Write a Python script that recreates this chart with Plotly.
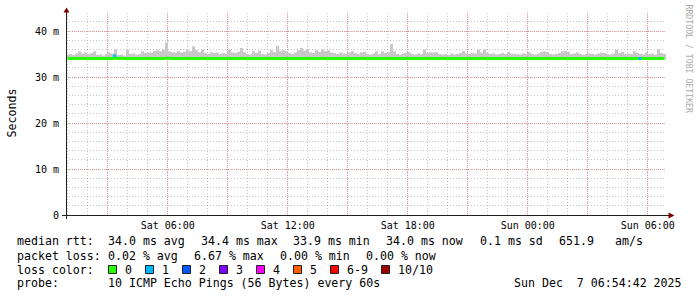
import pandas as pd
import plotly.graph_objects as go

# ---------------- data ----------------
start_time = "2025-12-06 00:54:42"
end_time = "2025-12-07 06:54:42"
bin_minutes = 9

smoke_hi = [
    34.9, 35.0, 34.8, 35.1, 35.6, 35.1, 35.3, 35.0, 35.2, 35.6,
    34.8, 34.9, 34.7, 35.0, 35.3, 35.1, 36.0, 34.8, 34.9, 34.7,
    35.8, 35.0, 35.1, 34.9, 35.0, 35.6, 35.2, 35.4, 35.3, 35.6,
    35.8, 35.6, 36.0, 37.5, 35.6, 35.4, 35.3, 35.6, 35.3, 35.5,
    35.8, 35.6, 36.7, 35.8, 35.4, 36.0, 35.2, 35.0, 35.4, 35.2,
    35.3, 35.0, 35.2, 35.0, 36.0, 35.3, 35.2, 35.5, 36.3, 35.4,
    35.0, 34.9, 35.6, 35.2, 35.7, 35.0, 34.9, 35.2, 35.8, 35.4,
    36.8, 35.6, 35.8, 35.6, 35.2, 35.0, 35.3, 35.8, 36.3, 35.7,
    36.0, 35.4, 35.2, 35.8, 35.5, 36.0, 35.6, 35.8, 35.3, 35.2,
    35.0, 35.3, 35.1, 35.0, 35.3, 35.6, 35.2, 35.0, 35.3, 35.5,
    35.0, 34.9, 35.1, 35.6, 35.0, 35.6, 35.2, 35.4, 37.2, 35.6,
    35.0, 34.9, 35.1, 35.3, 35.4, 35.0, 34.9, 35.1, 35.0, 36.0,
    35.2, 35.4, 35.3, 35.4, 35.0, 34.9, 35.0, 34.8, 35.1, 34.9,
    35.0, 35.2, 35.6, 35.1, 35.0, 35.2, 35.1, 36.0, 35.3, 36.0,
    35.2, 35.0, 35.1, 34.9, 35.0, 35.2, 35.0, 35.5, 35.1, 35.0,
    35.0, 34.9, 35.1, 35.0, 35.4, 35.0, 34.9, 35.1, 35.5, 35.6,
    35.4, 35.0, 34.9, 35.0, 35.2, 35.6, 35.7, 35.5, 35.0, 35.1,
    35.3, 35.0, 34.9, 35.0, 35.1, 35.0, 34.9, 35.1, 35.3, 35.2,
    35.0, 34.9, 35.1, 36.0, 35.2, 35.5, 35.0, 35.1, 35.0, 35.6,
    35.2, 35.0, 34.9, 35.3, 35.0, 35.1, 34.9, 36.0, 35.2, 35.0,
]

smoke_lo = [
    33.8, 33.8, 33.7, 33.8, 33.8, 33.8, 33.8, 33.7, 33.8, 33.8,
    33.8, 33.8, 33.8, 33.8, 33.7, 33.8, 33.8, 33.8, 33.8, 33.8,
    33.8, 33.7, 33.8, 33.8, 33.8, 33.8, 33.8, 33.8, 33.7, 33.8,
    33.8, 33.8, 33.8, 33.8, 33.8, 33.7, 33.8, 33.8, 33.8, 33.8,
    33.8, 33.8, 33.8, 33.7, 33.8, 33.8, 33.8, 33.8, 33.8, 33.8,
    33.8, 33.8, 33.7, 33.8, 33.8, 33.8, 33.8, 33.8, 33.8, 33.7,
    33.8, 33.8, 33.8, 33.8, 33.8, 33.8, 33.7, 33.8, 33.8, 33.8,
    33.8, 33.8, 33.8, 33.8, 33.7, 33.8, 33.8, 33.8, 33.8, 33.8,
    33.8, 33.7, 33.8, 33.8, 33.8, 33.8, 33.8, 33.8, 33.7, 33.8,
    33.8, 33.8, 33.8, 33.8, 33.8, 33.7, 33.8, 33.8, 33.8, 33.8,
    33.8, 33.8, 33.8, 33.7, 33.8, 33.8, 33.8, 33.8, 33.8, 33.8,
    33.7, 33.8, 33.8, 33.8, 33.8, 33.8, 33.8, 33.7, 33.8, 33.8,
    33.8, 33.8, 33.8, 33.8, 33.7, 33.8, 33.8, 33.8, 33.8, 33.8,
    33.8, 33.7, 33.8, 33.8, 33.8, 33.8, 33.8, 33.8, 33.7, 33.8,
    33.8, 33.8, 33.8, 33.8, 33.8, 33.7, 33.8, 33.8, 33.8, 33.8,
    33.8, 33.8, 33.7, 33.8, 33.8, 33.8, 33.8, 33.8, 33.8, 33.7,
    33.8, 33.8, 33.8, 33.8, 33.8, 33.8, 33.7, 33.8, 33.8, 33.8,
    33.8, 33.8, 33.8, 33.8, 33.7, 33.8, 33.8, 33.8, 33.8, 33.8,
    33.8, 33.7, 33.8, 33.8, 33.8, 33.8, 33.8, 33.8, 33.6, 33.8,
    33.8, 33.8, 33.8, 33.8, 33.8, 33.7, 33.8, 33.8, 33.8, 33.8,
]

median_rtt = [
    34.0, 34.0, 34.0, 33.9, 34.0, 34.0, 34.0, 34.0, 34.0, 34.0,
    34.0, 34.0, 34.0, 34.0, 34.0, 34.0, 34.1, 34.0, 34.0, 34.0,
    34.0, 34.0, 33.9, 34.0, 34.0, 34.0, 34.0, 34.0, 34.0, 34.0,
    34.0, 34.0, 34.0, 34.1, 34.0, 34.0, 34.0, 34.0, 34.0, 34.0,
    34.0, 34.0, 34.0, 34.0, 34.0, 34.0, 34.0, 33.9, 34.0, 34.0,
    34.0, 34.0, 34.0, 34.0, 34.0, 34.0, 34.0, 34.0, 34.0, 34.0,
    33.9, 34.0, 34.0, 34.0, 34.0, 34.0, 34.0, 34.0, 34.0, 34.0,
    34.0, 34.0, 34.0, 34.0, 34.0, 34.0, 34.0, 34.0, 34.0, 34.0,
    34.0, 34.0, 34.0, 34.0, 34.0, 34.0, 34.0, 34.0, 34.0, 34.0,
    34.0, 34.0, 34.0, 33.9, 34.0, 34.0, 34.0, 34.0, 34.0, 34.0,
    34.0, 34.0, 34.0, 34.0, 34.0, 34.0, 34.0, 34.0, 34.0, 34.0,
    34.0, 34.0, 34.0, 34.0, 34.0, 34.0, 34.0, 34.0, 34.0, 34.0,
    34.0, 34.0, 34.0, 34.0, 34.0, 34.0, 33.9, 34.0, 34.0, 34.0,
    34.0, 34.0, 34.0, 34.0, 34.0, 34.0, 34.0, 34.0, 34.0, 34.0,
    34.0, 34.0, 34.0, 34.0, 34.0, 34.0, 34.0, 34.0, 34.0, 34.0,
    34.0, 34.0, 34.0, 34.0, 34.0, 34.0, 34.0, 34.0, 34.0, 34.0,
    34.0, 34.0, 34.0, 34.0, 34.0, 34.0, 34.0, 34.0, 34.0, 34.0,
    34.0, 34.0, 34.0, 34.0, 34.0, 34.0, 34.0, 34.0, 34.0, 34.0,
    34.0, 34.0, 34.0, 34.0, 34.0, 34.0, 34.0, 34.0, 34.0, 33.9,
    34.0, 34.0, 34.0, 34.0, 34.0, 34.0, 34.0, 34.0, 34.0, 34.0,
]

loss_times = ["2025-12-06 03:21:00", "2025-12-07 05:36:00"]
loss_values = [34.6, 34.0]

x_tick_times = ["2025-12-06 03:00", "2025-12-06 06:00", "2025-12-06 09:00",
                "2025-12-06 12:00", "2025-12-06 15:00", "2025-12-06 18:00",
                "2025-12-06 21:00", "2025-12-07 00:00", "2025-12-07 03:00",
                "2025-12-07 06:00"]
x_tick_labels = ["", "Sat 06:00", "", "Sat 12:00", "", "Sat 18:00",
                 "", "Sun 00:00", "", "Sun 06:00"]
y_tick_vals = [0, 10, 20, 30, 40]
y_tick_labels = ["0", "10 m", "20 m", "30 m", "40 m"]

legend_labels = ["0", "1", "2", "3", "4", "5", "6-9", "10/10"]
legend_colors = ["#26ff00", "#00b8ff", "#0059ff", "#7e00ff",
                 "#ff00ff", "#ff5e00", "#ff0000", "#a10000"]

line1 = ["median rtt:", "34.0 ms avg", "34.4 ms max", "33.9 ms min",
         "34.0 ms now", "0.1 ms sd", "651.9", "am/s"]
line2 = ["packet loss:", "0.02 % avg", "6.67 % max", "0.00 % min", "0.00 % now"]
line4 = ["probe:", "10 ICMP Echo Pings (56 Bytes) every 60s",
         "Sun Dec  7 06:54:42 2025"]

# ---------------- geometry helpers ----------------
W, H = 697, 297
L, R, T, B = 66, 31, 13, 82
PW, PH = W - L - R, H - T - B


def px(x):
    return (x - L) / PW


def py(y):
    return (T + PH - y) / PH


MONO = "DejaVu Sans Mono"

bins = pd.date_range(start_time, periods=len(smoke_hi), freq=f"{bin_minutes}min")
edges = list(bins) + [pd.Timestamp(end_time)]
centers = bins + pd.Timedelta(minutes=bin_minutes / 2)

fig = go.Figure()
fig.add_trace(go.Scatter(x=edges, y=smoke_lo + smoke_lo[-1:], mode="lines",
                         line=dict(width=0, shape="hv"), hoverinfo="skip",
                         showlegend=False))
fig.add_trace(go.Scatter(x=edges, y=smoke_hi + smoke_hi[-1:], mode="lines",
                         line=dict(width=0, shape="hv"), fill="tonexty",
                         fillcolor="#c8c8c8", hoverinfo="skip", showlegend=False))
fig.add_trace(go.Scatter(x=centers, y=median_rtt, mode="lines",
                         line=dict(color="#26ff00", width=3), showlegend=False))
fig.add_trace(go.Scatter(x=loss_times, y=loss_values, mode="markers",
                         marker=dict(color="#00b8ff", size=3, symbol="square",
                                     line=dict(width=0)), showlegend=False))

MGRID = "rgba(222,80,80,0.5)"
GRID = "rgba(143,143,143,0.5)"

fig.update_xaxes(
    type="date", range=[start_time, end_time],
    tickmode="array", tickvals=x_tick_times, ticktext=x_tick_labels,
    showgrid=True, gridcolor=MGRID, griddash="1px,1px", gridwidth=1,
    minor=dict(dtick=3600000, tick0="2025-12-06 00:00", showgrid=True,
               gridcolor=GRID, griddash="1px,2px", gridwidth=1),
    showline=False, zeroline=False, ticks="", ticklabelstandoff=3,
    tickfont=dict(family=MONO, size=10, color="#000"),
    fixedrange=True,
)
fig.update_yaxes(
    range=[0, PH / 4.6], tickmode="array", tickvals=y_tick_vals,
    ticktext=y_tick_labels,
    showgrid=True, gridcolor=MGRID, griddash="1px,1px", gridwidth=1,
    minor=dict(dtick=2, tick0=0, showgrid=True, gridcolor=GRID,
               griddash="1px,2px", gridwidth=1),
    showline=False, zeroline=False, ticks="", ticklabelstandoff=6,
    tickfont=dict(family=MONO, size=10, color="#000"),
    fixedrange=True,
)

shapes = []
# axis lines
shapes.append(dict(type="line", xref="paper", yref="paper",
                   x0=px(62), x1=px(669), y0=py(215.5), y1=py(215.5),
                   line=dict(color="#202020", width=1)))
shapes.append(dict(type="line", xref="paper", yref="paper",
                   x0=px(66.5), x1=px(66.5), y0=py(219), y1=py(11),
                   line=dict(color="#202020", width=1)))
# arrows
shapes.append(dict(type="path", xref="paper", yref="paper",
                   path=f"M {px(63.5)} {py(12.5)} L {px(69.5)} {py(12.5)} L {px(66.5)} {py(7.5)} Z",
                   fillcolor="#800000", line=dict(width=0)))
shapes.append(dict(type="path", xref="paper", yref="paper",
                   path=f"M {px(668.5)} {py(212.5)} L {px(668.5)} {py(218.5)} L {px(674.5)} {py(215.5)} Z",
                   fillcolor="#800000", line=dict(width=0)))
# legend boxes
box_x = [108.5, 145.5, 182.5, 219.5, 256.5, 293.5, 330.5, 381.5]
for bx, col in zip(box_x, legend_colors):
    shapes.append(dict(type="rect", xref="paper", yref="paper",
                       x0=px(bx), x1=px(bx + 8), y0=py(265.5), y1=py(273.5),
                       fillcolor=col, line=dict(color="#202020", width=1)))

annotations = []


def txt(s, x, y, size=11.6, color="#000", **kw):
    annotations.append(dict(text=s.replace(" ", "\u00a0"), xref="paper",
                            yref="paper", x=px(x), y=py(y), xanchor="left",
                            yanchor="middle", showarrow=False,
                            font=dict(family=MONO, size=size, color=color),
                            borderpad=0, **kw))


for s, x in zip(line1, [16, 106.5, 199.5, 292, 385, 478.5, 557.5, 613.5]):
    txt(s, x, 241.5)
for s, x in zip(line2, [16, 106.5, 192.5, 278.5, 364.5]):
    txt(s, x, 255.5)
txt("loss color:", 16, 269.5)
for s, bx in zip(legend_labels, box_x):
    txt(s, bx + 15, 269.5)
for s, x in zip(line4, [16, 106.5, 512.5]):
    txt(s, x, 283)

# y-axis title
annotations.append(dict(text="Seconds", xref="paper", yref="paper",
                        x=px(11), y=py(113.5), xanchor="center",
                        yanchor="middle", textangle=-90, showarrow=False,
                        font=dict(family=MONO, size=11.6, color="#000")))
# watermark
annotations.append(dict(text="RRDTOOL / TOBI OETIKER", xref="paper",
                        yref="paper", x=px(688.5), y=py(59), xanchor="center",
                        yanchor="middle", textangle=90, showarrow=False,
                        font=dict(family=MONO, size=8.2, color="#aaaaaa")))

fig.update_layout(
    width=W, height=H,
    margin=dict(l=L, r=R, t=T, b=B, pad=0),
    paper_bgcolor="#ffffff", plot_bgcolor="#ffffff",
    showlegend=False, shapes=shapes, annotations=annotations,
)

fig.write_html("out.html", include_plotlyjs=True, config={"displayModeBar": False})
